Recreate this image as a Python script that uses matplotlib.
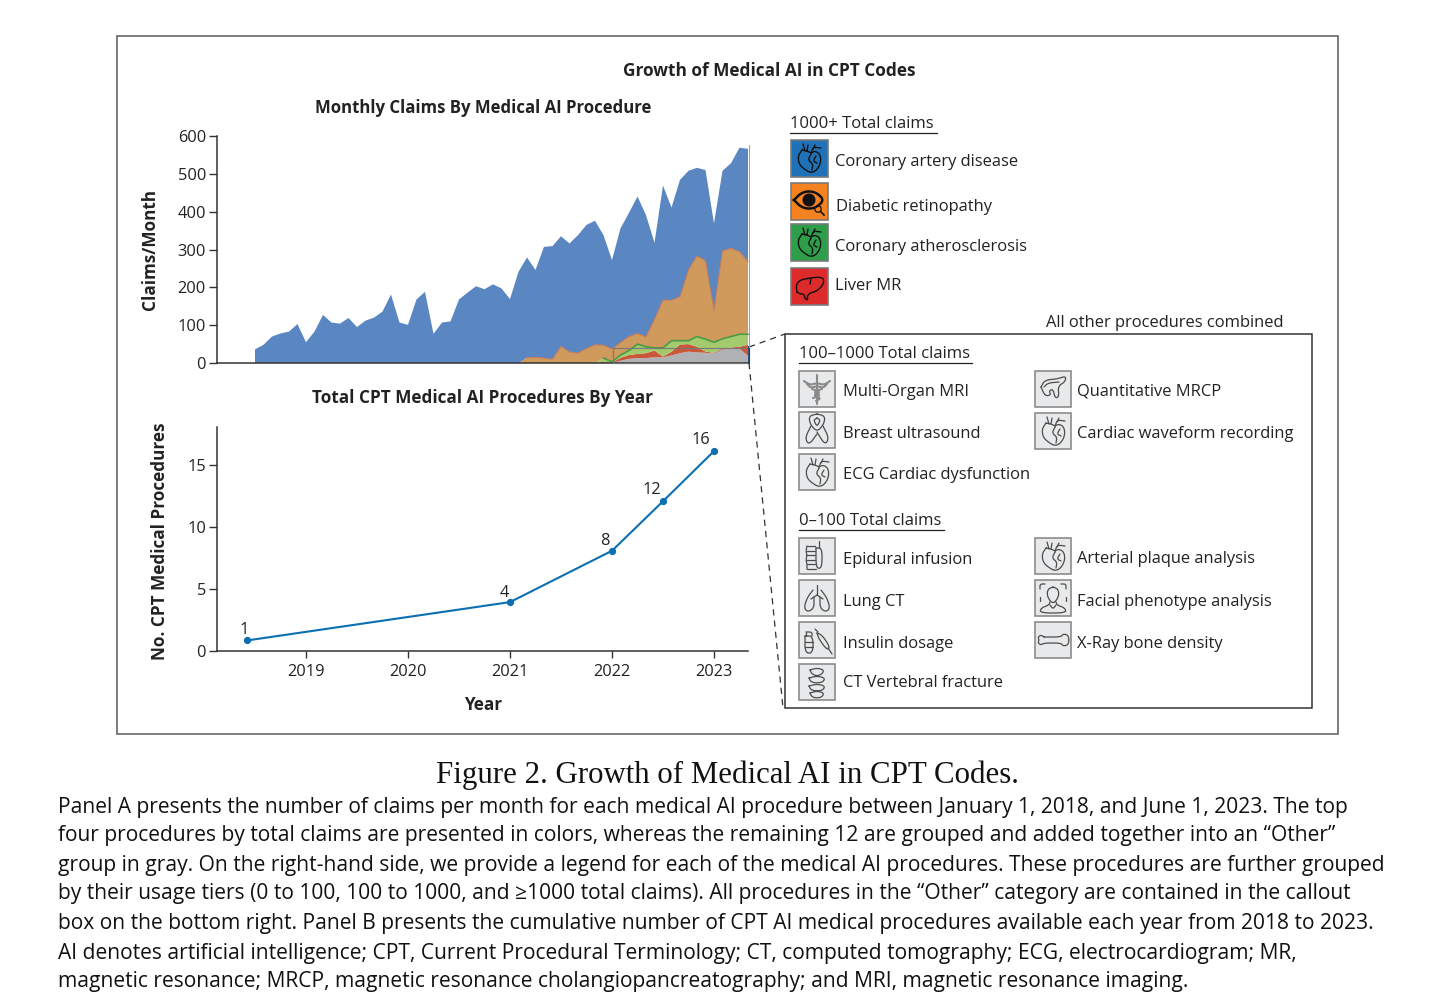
import numpy as np
import pandas as pd
import matplotlib
matplotlib.use("Agg")
import matplotlib.pyplot as plt
from matplotlib.patches import Rectangle, Circle

# monthly claims, july 2018 to may 2023
months = pd.date_range("2018-07-01", "2023-05-01", freq="MS")
cad = [36, 48, 70, 78, 83, 103, 55, 83, 127, 107, 104, 119, 95, 112, 120, 136, 181, 107, 101, 168,
       188, 77, 107, 110, 168, 186, 203, 195, 208, 197, 169, 241, 265, 231, 294, 299, 291, 287, 312,
       327, 328, 291, 235, 302, 327, 362, 322, 203, 303, 245, 309, 262, 233, 240, 229, 212, 225, 275, 298]
retinopathy = [0] * 32 + [14, 15, 13, 10, 44, 29, 26, 38, 48, 34, 34, 33, 37, 28, 26, 75, 126, 107,
                          116, 187, 213, 207, 85, 232, 233, 218, 192]
athero = [0] * 41 + [10, 2, 7, 12, 26, 17, 7, 23, 29, 10, 9, 27, 33, 28, 25, 29, 33, 28]
liver = [0] * 41 + [3, 1, 8, 10, 11, 13, 18, 2, 10, 23, 20, 15, 3, 2, 3, 2, 5, 29]
other = [0] * 43 + [6, 11, 13, 13, 15, 15, 20, 26, 30, 28, 27, 25, 36, 39, 38, 19]
claim_ticks = [0, 100, 200, 300, 400, 500, 600]

# cumulative procedures
proc_years = [2018.42, 2021.0, 2022.0, 2022.5, 2023.0]
proc_values = [0.85, 3.95, 8.1, 12.1, 16.15]
proc_labels = ["1", "4", "8", "12", "16"]
year_ticks = [2019, 2020, 2021, 2022, 2023]
proc_ticks = [0, 5, 10, 15]

FONT = "Open Sans"
DARK = "#222222"
W, H = 1456, 1008
plt.rcParams["font.family"] = [FONT, "DejaVu Sans"]

fig = plt.figure(figsize=(W / 100, H / 100), dpi=100, facecolor="white")


def px_axes(x0, y0, x1, y1):
    return fig.add_axes([x0 / W, 1 - y1 / H, (x1 - x0) / W, (y1 - y0) / H])


# panel a
xlim = (2019 + (217 - 306) / 102, 2019 + (749 - 306) / 102)
x_months = months.year + (months.month - 1) / 12
ax1 = px_axes(217, 136, 749, 363)
ax1.stackplot(x_months, other, liver, athero, retinopathy, cad,
              colors=["#B0B1B4", "#C9573A", "#A3CB6E", "#D09A5C", "#5A86C1"], linewidth=0)
tops = np.cumsum([other, liver, athero, retinopathy], axis=0)
ax1.plot(x_months, np.ma.masked_where(tops[2] == 0, tops[2]), color="#4A9A48", lw=1.2)
ax1.plot(x_months, np.ma.masked_where(tops[3] == 0, tops[3]), color="#C47C5C", lw=0.8)
ax1.set_xlim(xlim)
ax1.set_ylim(0, 600)
ax1.set_xticks([])
ax1.set_yticks(claim_ticks)
ax1.tick_params(axis="y", length=6, width=1.0, color="#333333", labelsize=11.8, labelcolor=DARK, pad=2)

# panel b
ax2 = px_axes(217, 427, 748, 651)
ax2.plot(proc_years, proc_values, color="#0B6FB2", lw=1.5, marker="o", ms=4.2)
for xv, yv, lab, dx, dy in zip(proc_years, proc_values, proc_labels, [-3, -6, -7, -11, -13], [10, 9, 10, 11, 11]):
    ax2.annotate(lab, (xv, yv), xytext=(dx * 0.72, dy * 0.72), textcoords="offset points",
                 ha="center", va="center", fontsize=11.8, color=DARK)
ax2.set_xlim(xlim[0], xlim[1] - 1 / 102)
ax2.set_ylim(0, 18.1)
ax2.set_xticks(year_ticks)
ax2.set_yticks(proc_ticks)
ax2.tick_params(axis="x", length=5, width=1.0, color="#333333", labelsize=11.8, labelcolor=DARK, pad=4)
ax2.tick_params(axis="y", length=6, width=1.0, color="#333333", labelsize=11.8, labelcolor=DARK, pad=2)

for ax in (ax1, ax2):
    ax.spines[["top", "right"]].set_visible(False)
    ax.spines[["left", "bottom"]].set_color("#333333")
    ax.spines[["left", "bottom"]].set_linewidth(1.1)
    ax.patch.set_alpha(0)

# everything else in pixel coordinates
ov = fig.add_axes([0, 0, 1, 1], zorder=5)
ov.set_xlim(0, W)
ov.set_ylim(H, 0)
ov.axis("off")


def txt(x, y, s, size=11.9, weight="normal", ha="left", **kw):
    if "rotation" not in kw:
        y = y + 2  # open sans sits a little high
    ov.text(x, y, s, fontsize=size, fontweight=weight, ha=ha, va="center", color=kw.pop("color", DARK), **kw)


def smooth(pts, n=2):
    p = np.array(pts, float)
    for _ in range(n):
        q = 0.75 * p[:-1] + 0.25 * p[1:]
        r = 0.25 * p[:-1] + 0.75 * p[1:]
        mid = np.empty((len(q) * 2, 2))
        mid[0::2] = q
        mid[1::2] = r
        p = np.vstack([p[:1], mid, p[-1:]])
    return p


# outer frame and callout
ov.add_patch(Rectangle((117, 36), 1221, 698, fill=False, ec="#666666", lw=1.2))
ov.add_patch(Rectangle((785, 334), 527, 374, fill=False, ec="#333333", lw=1.1))
ov.plot([749, 785], [347, 334], color="#333333", lw=0.9, ls=(0, (5, 4)))
ov.plot([749, 783], [363, 708], color="#333333", lw=0.9, ls=(0, (5, 4)))
ov.add_patch(Rectangle((613, 348), 136, 15, fill=False, ec="#777777", lw=0.9, alpha=0.9))
ov.plot([749, 749], [347, 363], color="#12325C", lw=1.2)
ov.plot([749, 749], [145, 347], color="#7FA4C9", lw=0.7)

# titles
txt(769.5, 69, "Growth of Medical AI in CPT Codes", size=12.4, weight="bold", ha="center")
txt(483, 106, "Monthly Claims By Medical AI Procedure", size=12.1, weight="bold", ha="center")
txt(482.5, 396, "Total CPT Medical AI Procedures By Year", size=12.3, weight="bold", ha="center")
txt(483, 703, "Year", size=12.3, weight="bold", ha="center")
txt(149.5, 249, "Claims/Month", size=12.3, weight="bold", ha="center", rotation=90)
txt(160, 541, "No. CPT Medical Procedures", size=12.3, weight="bold", ha="center", rotation=90)

# icons, coordinates inside a 36 px box
HEART = [[(11, 10), (7, 16), (8, 24), (13, 29), (20, 33), (26, 30), (30, 22), (29, 14), (24, 11), (20, 13), (16, 11), (11, 10)],
         [(12, 4), (14, 11)], [(17, 5), (16, 11)], [(20, 14), (22, 7), (30, 8)], [(24, 5), (22, 9)],
         [(20, 14), (17, 20), (22, 24), (21, 30)], [(25, 16), (22, 21), (26, 23)]]
LIVER = [[(6, 24), (5, 17), (9, 12), (19, 10), (29, 9), (33, 11), (32, 17), (26, 23), (19, 25), (16, 28), (17, 32), (14, 31), (13, 26), (9, 26), (6, 24)],
         [(20, 10), (19, 16)]]
RIBBON = [[(18, 2), (10, 4), (11, 12), (18, 20), (25, 12), (26, 4), (18, 2)], [(18, 6), (15, 8), (16, 11), (18, 14), (20, 11), (21, 8), (18, 6)],
          [(12, 14), (6, 26), (10, 33), (18, 22)], [(18, 20), (26, 33), (30, 26), (24, 14)]]
PANCREAS = [[(6, 16), (10, 9), (22, 8), (31, 5), (30, 11), (23, 15), (24, 26), (20, 27), (18, 18), (14, 20), (16, 24), (10, 25), (6, 16)],
            [(9, 16), (13, 12), (24, 11)]]
CADUCEUS = [[(18, 4), (18, 33)], [(5, 10), (11, 14), (18, 12), (25, 14), (31, 10)], [(8, 13), (12, 17), (18, 15), (24, 17), (28, 13)],
            [(13, 18), (22, 21), (14, 24), (22, 27), (17, 30)], [(23, 18), (14, 21), (22, 24), (14, 27)]]
LUNGS = [[(18, 5), (18, 15)], [(18, 15), (12, 19)], [(18, 15), (24, 19)],
         [(14, 10), (8, 18), (5, 28), (9, 32), (15, 28), (15, 17)], [(22, 10), (28, 18), (31, 28), (27, 32), (21, 28), (21, 17)]]
FACE = [[(18, 7), (13, 9), (12, 15), (15, 21), (18, 23), (21, 21), (24, 15), (23, 9), (18, 7)],
        [(15, 22), (14, 25), (6, 28), (5, 33), (31, 33), (30, 28), (22, 25), (21, 22)], [(15, 25), (18, 29), (21, 25)],
        [(5, 9), (5, 4), (10, 4)], [(26, 4), (31, 4), (31, 9)], [(5, 17), (5, 21)], [(31, 17), (31, 21)]]
BONE = [[(9, 15), (26, 15), (28, 12), (33, 13), (34, 18), (33, 23), (28, 24), (26, 21), (9, 21), (6, 23), (3, 21), (4, 18), (3, 15), (6, 13), (9, 15)]]
SPINE = [[(20, 3), (20, 10)], [(17, 10), (23, 10), (23, 28), (20, 31), (17, 28), (17, 10)],
         [(8, 8), (16, 8)], [(8, 13), (16, 13)], [(7, 17), (16, 17)], [(7, 22), (16, 22)], [(8, 26), (16, 26)], [(8, 31), (17, 31)], [(8, 8), (7, 13), (8, 17), (7, 22), (8, 26), (8, 31)]]
INSULIN = [[(6, 14), (14, 14), (14, 31), (6, 31), (6, 14)], [(7, 10), (13, 10), (13, 14)], [(7, 10), (7, 14)], [(6, 20), (14, 20)], [(6, 25), (14, 25)],
           [(16, 7), (19, 10)], [(18, 11), (23, 13), (31, 25), (28, 28), (20, 17), (18, 11)], [(29, 26), (33, 32)]]
VERTEBRA = [[(11, 6), (18, 4), (25, 6), (23, 10), (18, 12), (13, 10), (11, 6)], [(10, 14), (18, 12), (26, 14), (24, 18), (18, 19), (12, 18), (10, 14)],
            [(10, 22), (18, 20), (26, 22), (24, 26), (18, 27), (12, 26), (10, 22)], [(11, 29), (18, 27), (25, 29), (23, 33), (18, 34), (13, 33), (11, 29)]]


def icon_box(x, y, strokes=None, face="#E8E9EA", edge="#8C8C8C", ink="#4C4C4C", lw=0.9, size=36, eye=False):
    ov.add_patch(Rectangle((x, y), size, size, fc=face, ec=edge, lw=1.2))
    if eye:
        lens = smooth([(3, 17), (10, 10), (18, 8), (26, 10), (33, 17), (26, 24), (18, 26), (10, 24), (3, 17)])
        ov.plot(x + lens[:, 0], y + lens[:, 1], color=ink, lw=1.8)
        ov.add_patch(Circle((x + 18, y + 17), 6.5, fc=ink, ec="none"))
        ov.add_patch(Circle((x + 27, y + 26), 3.2, fc=face, ec=ink, lw=0.9))
        ov.plot([x + 29.5, x + 33], [y + 28.5, y + 32], color=ink, lw=1.2)
        return
    if strokes is CADUCEUS:  # this one is a soft gray blob in the original
        ink, lw = "#8A8A8A", 1.5
    for s in strokes:
        p = smooth(s) if len(s) > 2 else np.array(s, float)
        ov.plot(x + p[:, 0], y + p[:, 1], color=ink, lw=lw, solid_capstyle="round")


def header(x, y, s, x1):
    txt(x, y, s, size=12)
    ov.plot([x, x1], [y + 11, y + 11], color=DARK, lw=0.9)


# top legend
header(790, 122, "1000+ Total claims", 937)
for top, name, face, strokes, is_eye, tx, ty in [
    (140, "Coronary artery disease", "#1F72B8", HEART, False, 835, 160),
    (183, "Diabetic retinopathy", "#F58220", None, True, 836, 205),
    (224, "Coronary atherosclerosis", "#2E9E4A", HEART, False, 835, 245),
    (268, "Liver MR", "#DD2A2A", LIVER, False, 835, 284),
]:
    icon_box(791, top, strokes, face=face, edge="#7A7A7A", ink="#111111", lw=1.0, eye=is_eye, size=37)
    txt(tx, ty, name)

# callout legend
txt(1164.5, 321, "All other procedures combined", ha="center")
header(799, 352, "100–1000 Total claims", 972)
header(799, 519, "0–100 Total claims", 944)
for bx, top, name, strokes, tx, ty in [
    (799, 371, "Multi-Organ MRI", CADUCEUS, 843, 390),
    (799, 412, "Breast ultrasound", RIBBON, 843, 432),
    (799, 454, "ECG Cardiac dysfunction", HEART, 843, 473),
    (799, 538, "Epidural infusion", SPINE, 843, 558),
    (799, 580, "Lung CT", LUNGS, 843, 600),
    (799, 622, "Insulin dosage", INSULIN, 843, 642),
    (799, 664, "CT Vertebral fracture", VERTEBRA, 843, 681),
    (1035, 371, "Quantitative MRCP", PANCREAS, 1077, 390),
    (1035, 413, "Cardiac waveform recording", HEART, 1077, 432),
    (1035, 538, "Arterial plaque analysis", HEART, 1077, 557),
    (1035, 580, "Facial phenotype analysis", FACE, 1077, 600),
    (1035, 622, "X-Ray bone density", BONE, 1077, 642),
]:
    icon_box(bx, top, strokes)
    txt(tx, ty, name)

# caption
ov.text(727.5, 775, "Figure 2. Growth of Medical AI in CPT Codes.", fontsize=22.2, family="Liberation Serif",
        ha="center", va="center", color="#111111")
caption = [
    "Panel A presents the number of claims per month for each medical AI procedure between January 1, 2018, and June 1, 2023. The top",
    "four procedures by total claims are presented in colors, whereas the remaining 12 are grouped and added together into an “Other”",
    "group in gray. On the right-hand side, we provide a legend for each of the medical AI procedures. These procedures are further grouped",
    "by their usage tiers (0 to 100, 100 to 1000, and ≥1000 total claims). All procedures in the “Other” category are contained in the callout",
    "box on the bottom right. Panel B presents the cumulative number of CPT AI medical procedures available each year from 2018 to 2023.",
    "AI denotes artificial intelligence; CPT, Current Procedural Terminology; CT, computed tomography; ECG, electrocardiogram; MR,",
    "magnetic resonance; MRCP, magnetic resonance cholangiopancreatography; and MRI, magnetic resonance imaging.",
]
for yy, line in zip([805, 834, 863, 892, 922, 951, 980], caption):
    txt(58, yy, line, size=15.1, color="#111111")

fig.savefig("out.png", dpi=100)
